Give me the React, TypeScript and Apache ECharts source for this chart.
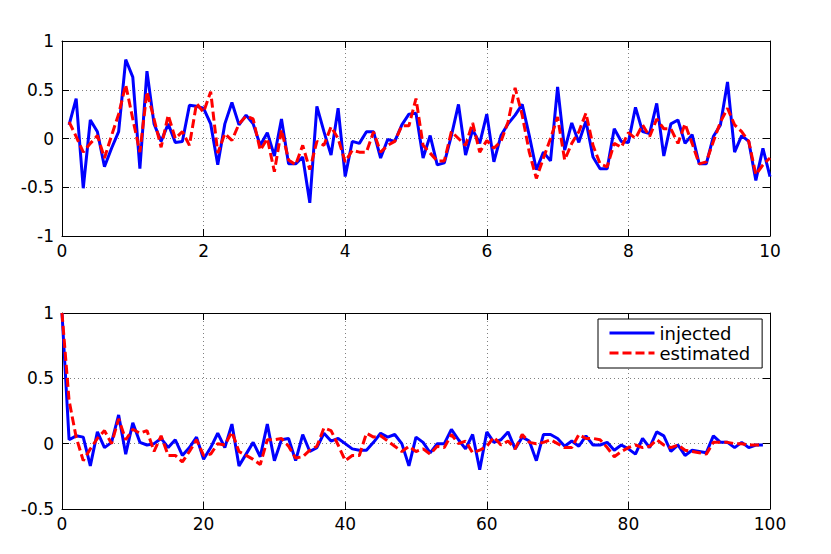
import React, { useEffect, useRef } from "react";
import * as echarts from "echarts";

// Top panel: time signal, t = 0.1 .. 10.0
const injectedTop = [
  0.14, 0.41, -0.51, 0.19, 0.07, -0.29, -0.1, 0.07, 0.81, 0.63,
  -0.31, 0.69, 0.15, -0.03, 0.15, -0.04, -0.03, 0.34, 0.33, 0.31,
  0.15, -0.27, 0.15, 0.37, 0.14, 0.24, 0.15, -0.07, 0.06, -0.18,
  0.2, -0.26, -0.26, -0.19, -0.66, 0.33, 0.07, -0.17, 0.31, -0.39,
  -0.03, -0.05, 0.07, 0.07, -0.2, -0.01, -0.03, 0.14, 0.25, 0.26,
  -0.2, 0.03, -0.27, -0.25, 0.03, 0.35, -0.17, 0.09, -0.05, 0.25,
  -0.24, 0.03, 0.15, 0.24, 0.35, 0.03, -0.32, -0.14, -0.23, 0.53,
  -0.12, 0.16, -0.04, 0.18, -0.19, -0.31, -0.31, 0.1, -0.03, -0.04,
  0.32, 0.07, 0.05, 0.36, -0.18, 0.15, 0.19, -0.05, 0.04, -0.26,
  -0.26, 0.02, 0.14, 0.58, -0.14, 0.03, -0.03, -0.43, -0.1, -0.39,
];
const estimatedTop = [
  0.17, 0.02, -0.14, -0.05, 0.03, -0.2, 0.03, 0.25, 0.55, 0.2,
  -0.14, 0.48, 0.2, -0.09, 0.24, 0.0, 0.07, -0.07, 0.36, 0.27,
  0.48, -0.15, 0.05, -0.02, 0.15, 0.23, 0.2, -0.12, 0.0, -0.34,
  0.09, -0.22, -0.27, -0.07, -0.32, -0.03, -0.07, 0.12, 0.0, -0.24,
  -0.12, -0.14, -0.14, 0.07, -0.14, -0.07, -0.03, 0.13, 0.13, 0.41,
  -0.07, -0.15, -0.23, -0.23, 0.07, 0.0, -0.07, 0.16, -0.14, -0.02,
  -0.1, -0.03, 0.17, 0.52, 0.24, -0.14, -0.41, -0.2, 0.0, 0.22,
  -0.22, -0.05, 0.07, 0.26, -0.07, -0.26, -0.29, -0.05, -0.09, 0.06,
  0.0, 0.14, 0.02, 0.2, 0.1, 0.1, -0.05, 0.15, -0.05, -0.26,
  -0.24, -0.03, 0.17, 0.31, 0.14, 0.07, -0.03, -0.37, -0.27, -0.2,
];

// Bottom panel: autocorrelation, lag = 0 .. 99
const injectedBottom = [
  1.0, 0.03, 0.06, 0.05, -0.17, 0.09, -0.03, 0.01, 0.22, -0.08,
  0.16, 0.01, -0.01, 0.0, 0.04, -0.03, 0.03, -0.09, -0.03, 0.05,
  -0.12, -0.03, 0.08, -0.03, 0.15, -0.17, -0.08, 0.01, -0.1, 0.15,
  -0.13, 0.03, 0.04, -0.13, 0.07, -0.06, -0.03, 0.08, 0.02, 0.04,
  0.0, -0.04, -0.05, -0.05, 0.01, 0.08, 0.05, 0.07, 0.0, -0.17,
  0.05, 0.01, -0.07, 0.0, 0.0, 0.11, 0.03, -0.04, 0.07, -0.2,
  0.09, 0.01, 0.03, 0.09, -0.04, 0.05, 0.02, -0.13, 0.07, 0.07,
  0.04, -0.02, 0.02, -0.02, 0.06, -0.01, -0.01, 0.01, -0.05, -0.01,
  -0.04, -0.08, 0.04, -0.03, 0.09, 0.06, -0.06, -0.01, -0.09, -0.05,
  -0.06, -0.07, 0.06, 0.01, 0.01, -0.03, 0.01, -0.03, -0.01, -0.01,
];
const estimatedBottom = [
  1.0, 0.33, 0.05, -0.13, -0.04, 0.04, 0.1, 0.0, 0.19, 0.03,
  0.11, 0.08, 0.1, -0.06, 0.06, -0.09, -0.09, -0.14, -0.06, 0.03,
  -0.09, -0.08, 0.0, -0.01, 0.09, -0.06, -0.09, -0.12, -0.16, 0.03,
  0.03, 0.04, -0.02, -0.11, -0.1, -0.05, -0.02, 0.12, 0.1, -0.01,
  -0.13, -0.09, -0.09, 0.08, 0.05, 0.06, 0.02, -0.02, -0.06, -0.02,
  -0.06, -0.04, -0.08, -0.02, -0.03, 0.07, 0.0, 0.02, -0.07, -0.05,
  -0.02, 0.05, -0.01, 0.02, -0.04, 0.07, 0.01, 0.0, 0.01, 0.03,
  0.0, -0.03, -0.03, 0.07, 0.04, 0.04, 0.03, -0.03, -0.1, -0.06,
  -0.03, -0.01, -0.03, -0.02, 0.03, -0.01, -0.03, -0.01, -0.05, -0.06,
  -0.07, -0.08, 0.01, 0.01, 0.01, 0.0, 0.0, -0.01, -0.01, -0.01,
];

const timeTop = injectedTop.map((_, i) => Number(((i + 1) / 10).toFixed(1)));
const lagsBottom = injectedBottom.map((_, i) => i);

const FONT = "DejaVu Sans";
const BLUE = "#0000ff";
const RED = "#ff0000";

function mainX(gridIndex: number, max: number, interval: number) {
  return {
    type: "value",
    gridIndex,
    min: 0,
    max,
    interval,
    position: "bottom",
    axisLine: { show: true, onZero: false, lineStyle: { color: "#000", width: 1 } },
    axisTick: { show: true, inside: true, length: 7, lineStyle: { color: "#000" } },
    axisLabel: { show: true, margin: 6, color: "#000", fontFamily: FONT, fontSize: 17 },
    splitLine: { show: true, lineStyle: { color: "#808080", type: [1, 3], width: 1 } },
  };
}
function mirrorX(gridIndex: number, max: number, interval: number) {
  return {
    type: "value",
    gridIndex,
    min: 0,
    max,
    interval,
    position: "top",
    axisLine: { show: true, onZero: false, lineStyle: { color: "#000", width: 1 } },
    axisTick: { show: true, inside: true, length: 7, lineStyle: { color: "#000" } },
    axisLabel: { show: false },
    splitLine: { show: false },
  };
}
function mainY(gridIndex: number, min: number, max: number) {
  return {
    type: "value",
    gridIndex,
    min,
    max,
    interval: 0.5,
    position: "left",
    axisLine: { show: true, onZero: false, lineStyle: { color: "#000", width: 1 } },
    axisTick: { show: true, inside: true, length: 7, lineStyle: { color: "#000" } },
    axisLabel: { show: true, margin: 8, color: "#000", fontFamily: FONT, fontSize: 17 },
    splitLine: { show: true, lineStyle: { color: "#808080", type: [1, 3], width: 1 } },
  };
}
function mirrorY(gridIndex: number, min: number, max: number) {
  return {
    type: "value",
    gridIndex,
    min,
    max,
    interval: 0.5,
    position: "right",
    axisLine: { show: true, onZero: false, lineStyle: { color: "#000", width: 1 } },
    axisTick: { show: true, inside: true, length: 7, lineStyle: { color: "#000" } },
    axisLabel: { show: false },
    splitLine: { show: false },
  };
}

export default function App() {
  const ref = useRef<HTMLDivElement>(null);
  useEffect(() => {
    if (!ref.current) return;
    const chart = echarts.init(ref.current, undefined, { renderer: "svg" });
    const lineSeries = (
      name: string,
      xs: number[],
      ys: number[],
      xi: number,
      yi: number,
      color: string,
      dashed: boolean,
      z: number
    ) => ({
      name,
      type: "line",
      xAxisIndex: xi,
      yAxisIndex: yi,
      data: xs.map((x, i) => [x, ys[i]]),
      symbol: "none",
      showSymbol: false,
      z,
      lineStyle: { color, width: 3, type: dashed ? [9, 4] : "solid" },
      itemStyle: { color },
      emphasis: { disabled: true },
    });
    chart.setOption({
      animation: false,
      backgroundColor: "#fff",
      textStyle: { fontFamily: FONT },
      grid: [
        { left: 62, top: 41, width: 708, height: 195, containLabel: false },
        { left: 62, top: 313, width: 708, height: 196, containLabel: false },
      ],
      xAxis: [mainX(0, 10, 2), mirrorX(0, 10, 2), mainX(1, 100, 20), mirrorX(1, 100, 20)],
      yAxis: [mainY(0, -1, 1), mirrorY(0, -1, 1), mainY(1, -0.5, 1), mirrorY(1, -0.5, 1)],
      legend: {
        show: true,
        orient: "vertical",
        left: 598,
        top: 319,
        padding: [5, 12, 6, 10],
        itemWidth: 45,
        itemHeight: 14,
        itemGap: 2,
        borderColor: "#000",
        borderWidth: 1,
        borderRadius: 0,
        backgroundColor: "#fff",
        selectedMode: false,
        itemStyle: { color: "rgba(0,0,0,0)", borderWidth: 0, opacity: 0 },
        lineStyle: { width: 3 },
        textStyle: { color: "#000", fontFamily: FONT, fontSize: 18, lineHeight: 16 },
        data: ["injected", "estimated"],
      },
      series: [
        lineSeries("injected", timeTop, injectedTop, 0, 0, BLUE, false, 2),
        lineSeries("estimated", timeTop, estimatedTop, 0, 0, RED, true, 3),
        lineSeries("injected", lagsBottom, injectedBottom, 2, 2, BLUE, false, 2),
        lineSeries("estimated", lagsBottom, estimatedBottom, 2, 2, RED, true, 3),
      ],
    });
    return () => chart.dispose();
  }, []);
  return (
    <div
      ref={ref}
      style={{ position: "fixed", left: 0, top: 0, width: 831, height: 554, background: "#fff" }}
    />
  );
}
